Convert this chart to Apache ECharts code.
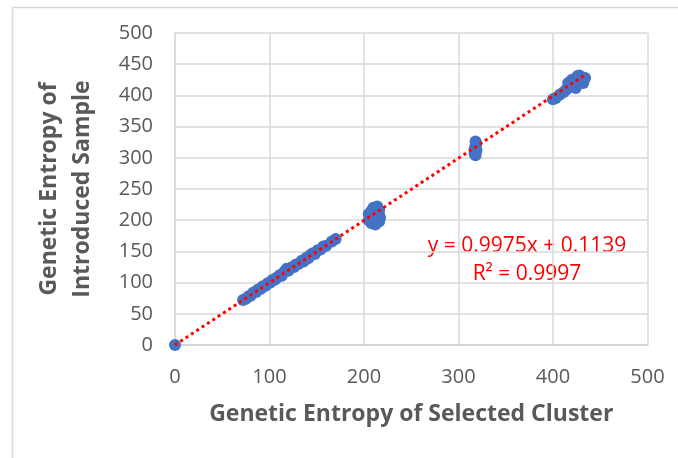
<!DOCTYPE html>
<html>
<head>
<meta charset="utf-8">
<script src="https://cdn.jsdelivr.net/npm/echarts@6/dist/echarts.min.js"></script>
<style>
  html, body { margin: 0; padding: 0; background: #ffffff; }
  #chart { width: 678px; height: 458px; }
</style>
</head>
<body>
<div id="chart"></div>
<script>
// Genetic entropy of each selected cluster vs. the introduced sample
const selectedCluster = [
  0,
  72, 75, 78, 80, 83, 86, 88, 91, 93, 96, 98, 101, 103, 106, 108, 111, 113, 116, 118, 120,
  123, 126, 128, 131, 134, 136, 139, 141, 144, 146, 148, 151, 154, 157, 160, 166, 170,
  205, 205, 208, 208, 208, 212, 212, 212, 212, 216, 216, 216, 217, 210, 214,
  318, 318, 317, 318, 319, 318, 317, 319,
  400, 403, 407, 411, 414, 418, 420, 424, 426, 432, 434, 420, 424, 428, 416, 422, 430, 428
];
const introducedSample = [
  0,
  72, 74, 78, 79, 84, 85, 89, 90, 94, 95, 99, 100, 104, 105, 108, 112, 111, 118, 122, 119,
  124, 125, 129, 130, 135, 134, 140, 139, 145, 147, 146, 152, 153, 158, 159, 166, 170,
  200, 210, 195, 205, 215, 193, 203, 213, 220, 198, 208, 216, 204, 220, 222,
  304, 309, 314, 319, 323, 326, 307, 312,
  394, 396, 401, 405, 409, 415, 425, 412, 431, 420, 428, 418, 422, 427, 420, 414, 423, 432
];
const yTicks = [0, 50, 100, 150, 200, 250, 300, 350, 400, 450, 500];
const xTicks = [0, 100, 200, 300, 400, 500];

// Linear fit reported for the data
const slope = 0.9975;
const intercept = 0.1139;
const rSquared = 0.9997;

const points = selectedCluster.map((x, i) => [x, introducedSample[i]]);
const fitEnd = Math.max(...selectedCluster);
const fitLine = [0, fitEnd].map(x => [x, slope * x + intercept]);

const textGray = '#595959';
const gridGray = '#d9d9d9';

const chart = echarts.init(document.getElementById('chart'), null, { renderer: 'canvas' });
chart.setOption({
  animation: false,
  backgroundColor: '#ffffff',
  grid: { left: 175, right: 30.5, top: 33, bottom: 113 },
  xAxis: {
    type: 'value',
    min: xTicks[0], max: xTicks[xTicks.length - 1], interval: 100,
    name: 'Genetic Entropy of Selected Cluster',
    nameLocation: 'middle',
    nameGap: 58,
    nameTextStyle: { fontFamily: 'Open Sans', fontWeight: 'bold', fontSize: 23, color: textGray },
    axisLine: { show: true, lineStyle: { color: '#cfcfcf', width: 1.5 } },
    axisTick: { show: false },
    axisLabel: { margin: 22, fontFamily: 'Open Sans', fontSize: 20, color: textGray },
    splitLine: { show: true, lineStyle: { color: gridGray, width: 1.5 } }
  },
  yAxis: {
    type: 'value',
    min: yTicks[0], max: yTicks[yTicks.length - 1], interval: 50,
    name: 'Genetic Entropy of\nIntroduced Sample',
    nameLocation: 'middle',
    nameRotate: 90,
    nameGap: 76,
    nameTextStyle: { fontFamily: 'Open Sans', fontWeight: 'bold', fontSize: 23, lineHeight: 33, color: textGray },
    axisLine: { show: true, lineStyle: { color: gridGray, width: 1.5 } },
    axisTick: { show: false },
    axisLabel: { margin: 22, fontFamily: 'Open Sans', fontSize: 20, color: textGray },
    splitLine: { show: true, lineStyle: { color: gridGray, width: 1.5 } }
  },
  series: [
    {
      type: 'scatter',
      data: points,
      symbol: 'circle',
      symbolSize: 12,
      itemStyle: { color: '#4472C4', opacity: 1 },
      silent: true,
      z: 2
    },
    {
      type: 'line',
      data: fitLine,
      showSymbol: false,
      silent: true,
      lineStyle: { color: '#ff0000', width: 3, type: [3, 3.4], cap: 'butt' },
      z: 3
    }
  ],
  graphic: [
    {
      type: 'rect',
      shape: { x: 12.5, y: 7.5, width: 800, height: 600 },
      style: { fill: null, stroke: gridGray, lineWidth: 1.5 },
      silent: true,
      z: -1
    },
    {
      type: 'text',
      x: 527, y: 236,
      style: {
        text: 'y = ' + slope + 'x + ' + intercept,
        fill: '#ff0000',
        fontFamily: 'Open Sans',
        fontSize: 21,
        align: 'center',
        verticalAlign: 'top'
      }
    },
    {
      type: 'text',
      x: 527, y: 264,
      style: {
        text: 'R² = ' + rSquared,
        fill: '#ff0000',
        fontFamily: 'Open Sans',
        fontSize: 21,
        align: 'center',
        verticalAlign: 'top'
      }
    }
  ]
});
</script>
</body>
</html>
